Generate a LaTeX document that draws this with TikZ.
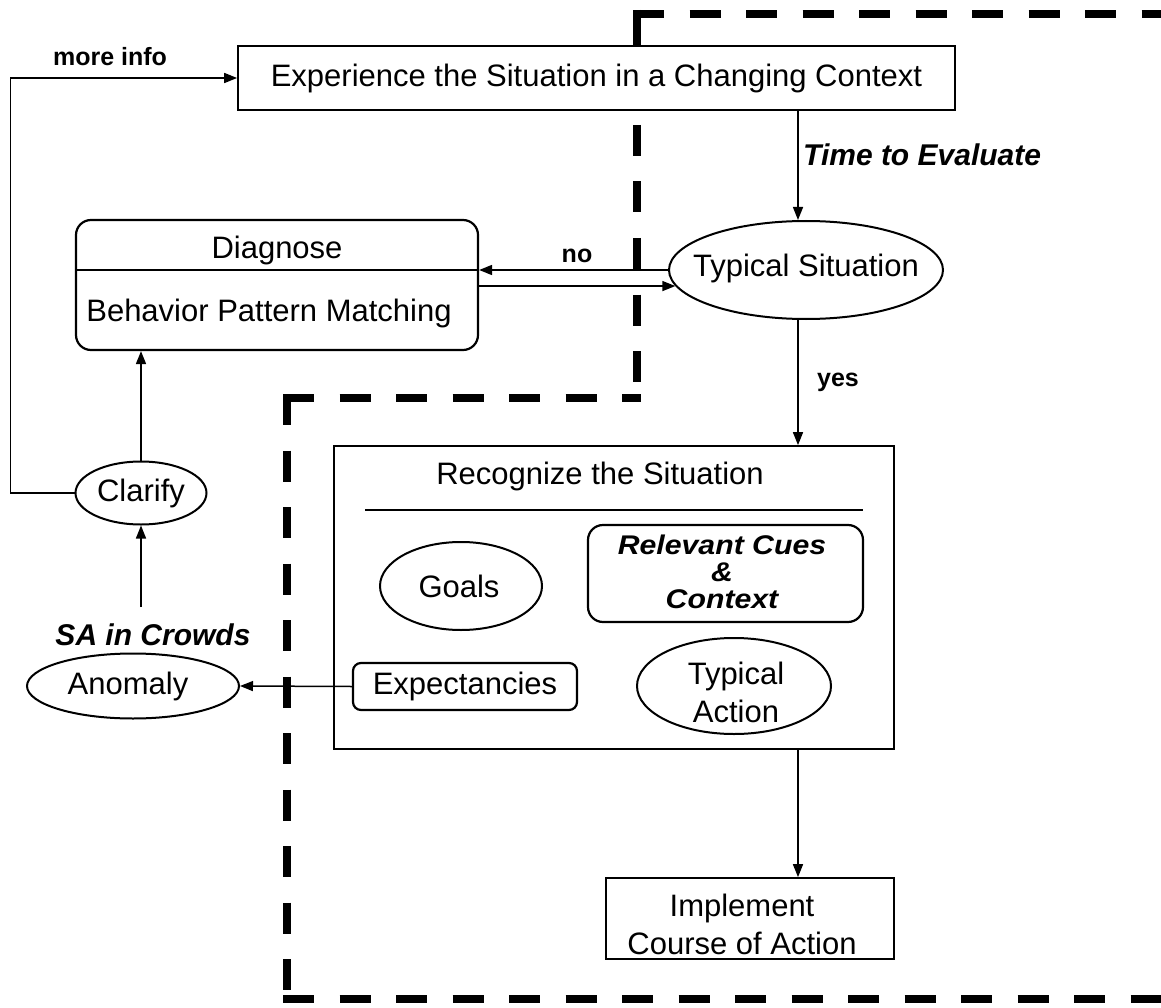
\documentclass[tikz,border=0pt]{standalone}
\usepackage{fontspec}
\setmainfont{Liberation Sans}
\newfontfamily\widesans[FakeStretch=1.12]{Liberation Sans}
\usetikzlibrary{shapes.geometric,arrows.meta}

\newcommand{\regfont}{\fontsize{31}{38}\selectfont}
\newcommand{\lblfont}{\fontsize{25}{28}\selectfont\bfseries}
\newcommand{\emfont}{\fontsize{30}{30}\selectfont\bfseries\itshape}
\newcommand{\cuefont}{\widesans\fontsize{27}{27}\selectfont\bfseries\itshape}

\tikzset{
  plainbox/.style={draw, line width=1.7pt, fill=white, inner sep=0pt, font=\regfont},
  roundbox/.style={plainbox, rounded corners=15pt, line width=2.2pt},
  oval/.style={draw, ellipse, line width=2pt, fill=white, inner sep=0pt},
  txt/.style={inner sep=0pt, font=\regfont, align=center},
  lbl/.style={inner sep=0pt, font=\lblfont},
  emlbl/.style={inner sep=0pt, font=\emfont, align=center},
  flow/.style={line width=1.5pt, -{Triangle[length=13pt,width=10pt]}},
  plain/.style={line width=1.5pt},
  boundary/.style={line width=8pt, dash pattern=on 31pt off 25.5pt},
  boundarysolid/.style={line width=8pt}
}

\begin{document}
\begin{tikzpicture}[x=1pt, y=-1pt]
  \useasboundingbox (0,0) rectangle (1161,1008);

  % thick dashed boundary, drawn in pieces from its corners
  \draw[boundarysolid] (637,10) -- (637,50);
  \draw[boundary] (633,14) -- (1161,14);
  \draw[boundary] (637,125) -- (637,402);
  \draw[boundary] (283,398) -- (641,398);
  \draw[boundary] (287,394) -- (287,999);
  \draw[boundary] (283,999) -- (1161,999);

  % helper coordinates
  \coordinate (col) at (798,0);
  \coordinate (divy) at (0,270);
  \coordinate (saTop) at (141,607);

  % top box
  \node[plainbox, minimum width=717pt, minimum height=64pt] (exp) at (596.5,78)
    {Experience the Situation in a Changing Context};

  % diagnose box
  \node[roundbox, minimum width=402pt, minimum height=130pt] (dg) at (277,285) {};
  \draw[plain] (dg.west |- divy) -- (dg.east |- divy);
  \node[txt] (dgTitle) at (277,250) {Diagnose};
  \node[txt] (dgBody) at (269,313) {Behavior Pattern Matching};

  % typical situation
  \node[oval, minimum width=274pt, minimum height=98pt] (ts) at (806,270) {};
  \node[txt] (tsText) at (806,268) {Typical Situation};

  % recognize box
  \node[plainbox, minimum width=560pt, minimum height=303pt] (rec) at (614,597.5) {};
  \node[txt] (recTitle) at (600,476) {Recognize the Situation};
  \coordinate (recL) at (365,510);
  \coordinate (recR) at (863,510);
  \draw[plain] (recL) -- (recR);

  \node[oval, minimum width=162pt, minimum height=88pt] (goals) at (461,586) {};
  \node[txt] (goalsText) at (459,586) {Goals};
  \node[roundbox, minimum width=275pt, minimum height=97pt] (cues) at (725.5,573.5) {};
  \node[inner sep=0pt, font=\cuefont, align=center] (cuesText) at (722,572)
    {Relevant Cues\\\&\\Context};
  \node[roundbox, rounded corners=8pt, minimum width=224pt, minimum height=47pt] (expc) at (465,686.5) {Expectancies};
  \node[oval, minimum width=194pt, minimum height=96pt] (tact) at (734,686) {};
  \node[txt] (tactText) at (736,692) {Typical\\Action};

  % implement box
  \node[plainbox, minimum width=288pt, minimum height=81pt] (imp) at (750,918.5) {};
  \node[txt] (impText) at (742,924) {Implement\\Course of Action};

  % left column
  \node[oval, minimum width=131pt, minimum height=63pt] (cl) at (141,493) {};
  \node[txt] (clText) at (141,493) {Clarify};
  \node[oval, minimum width=212pt, minimum height=65pt] (an) at (133,686) {};
  \node[txt] (anText) at (128,686) {Anomaly};

  % labels
  \node[lbl] (moreInfo) at (110,57) {more info};
  \node[lbl] (noLbl) at (577,256) {no};
  \node[lbl] (yesLbl) at (838,382) {yes};
  \node[emlbl, anchor=west] (timeLbl) at (803,155) {Time to Evaluate};
  \node[emlbl] (saLbl) at (153,635) {SA in Crowds};

  % connectors
  \draw[flow] (exp.south -| col) -- (ts.north -| col);
  \draw[flow] (ts.west) -- (ts.west -| dg.east);
  \draw[flow] (dg.east |- ts.187) -- (ts.187);
  \draw[flow] (ts.south -| col) -- (rec.north -| col);
  \draw[flow] (rec.south -| col) -- (imp.north -| col);
  \draw[flow] (expc.west) -- (an.east);
  \draw[flow] (saTop) -- (cl.south);
  \draw[flow] (cl.north) -- (cl.north |- dg.south);
  \draw[flow] (cl.west) -- ++(-64,0) |- (exp.west);
\end{tikzpicture}
\end{document}
